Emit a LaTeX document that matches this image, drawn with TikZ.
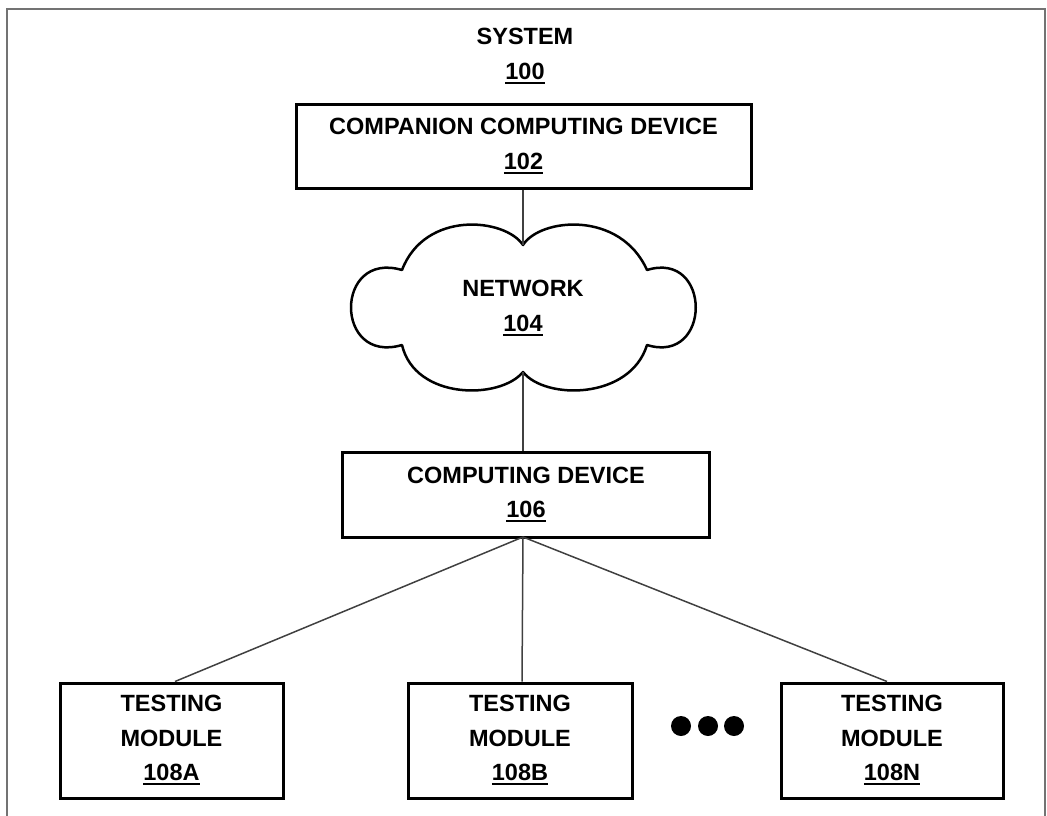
\documentclass[tikz,border=0pt]{standalone}
\usepackage{fontspec}
\setmainfont{Liberation Sans}
\newcommand\myul[1]{\setbox0\hbox{#1}\rlap{\rule[-4.5pt]{\wd0}{2pt}}\box0}
\begin{document}
\begin{tikzpicture}[x=1pt,y=-1pt,
  lbl/.style={font=\bfseries\fontsize{23.5}{34.5}\selectfont, align=center, inner sep=0pt},
  box/.style={lbl, draw=black, line width=3pt, minimum height=#1},
  box/.default=84pt,
  conn/.style={draw=black!75, line width=1.5pt},
  dotmark/.style={circle, fill=black, inner sep=0pt, minimum size=20pt}]
\useasboundingbox (0,0) rectangle (1047,816);
\begin{scope}
\clip (0,0) rectangle (1047,816);
\draw[black!55, line width=2.2pt] (7,9) rectangle (1045,830);
\end{scope}
% title
\node[lbl] (sys) at (525,56) {SYSTEM\\\myul{100}};
% companion
\node[box, minimum width=455pt] (comp) at (523.5,146) {COMPANION COMPUTING DEVICE\\\myul{102}};
% cloud
\coordinate (netT) at (523,245);
\coordinate (netB) at (523,372);
\draw[line width=2.5pt, line join=round]
  (netT) .. controls (540,218) and (620,210) .. (647,270)
         .. controls (712,250) and (712,365) .. (647,345)
         .. controls (630,400) and (545,400) .. (netB)
         .. controls (500,400) and (415,400) .. (402,345)
         .. controls (334,365) and (334,250) .. (402,270)
         .. controls (425,210) and (505,218) .. (netT) -- cycle;
\node[lbl] (net) at (523,308) {NETWORK\\\myul{104}};
% computing device
\node[box=85pt, minimum width=367pt] (dev) at (526,494.5) {COMPUTING DEVICE\\\myul{106}};
% testing modules
\node[box=115pt, minimum width=223pt] (ta) at (171.5,740.5) {TESTING\\MODULE\\\myul{108A}};
\node[box=115pt, minimum width=224pt] (tb) at (520,740.5) {TESTING\\MODULE\\\myul{108B}};
\node[box=115pt, minimum width=222pt] (tn) at (892,740.5) {TESTING\\MODULE\\\myul{108N}};
% dots
\node[dotmark] (d1) at (681,726) {};
\node[dotmark] (d2) at (708,726) {};
\node[dotmark] (d3) at (734,726) {};
% connectors
\coordinate (devB) at (523,537);
\draw[conn] (comp.south -| netT) -- (netT);
\draw[conn] (netB) -- (dev.north -| netB);
\draw[conn] (devB) -- (ta.north -| 175,0);
\draw[conn] (devB) -- (tb.north -| 522,0);
\draw[conn] (devB) -- (tn.north -| 887,0);
\end{tikzpicture}
\end{document}
